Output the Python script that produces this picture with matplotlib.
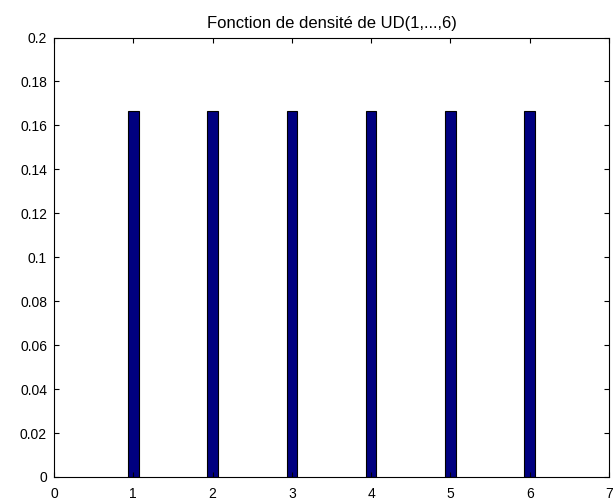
import matplotlib
matplotlib.use("Agg")
import matplotlib.pyplot as plt
from matplotlib.ticker import FixedLocator, FixedFormatter

faces = [1, 2, 3, 4, 5, 6]
density = [1 / 6] * 6
xticks = [0, 1, 2, 3, 4, 5, 6, 7]
yticks = [0, 0.02, 0.04, 0.06, 0.08, 0.1, 0.12, 0.14, 0.16, 0.18, 0.2]
ytick_labels = ["0", "0.02", "0.04", "0.06", "0.08", "0.1", "0.12", "0.14", "0.16", "0.18", "0.2"]
title = "Fonction de densité de UD(1,...,6)"

plt.rcParams["font.family"] = ["Liberation Sans", "DejaVu Sans"]

W, H = 615, 503
left, right, top, bottom = 54, 609, 37.5, 477
fig = plt.figure(figsize=(W / 100, H / 100), dpi=100)
ax = fig.add_axes([left / W, 1 - bottom / H, (right - left) / W, (bottom - top) / H])

ax.bar(faces, density, width=0.135, color="#000080", edgecolor="black", linewidth=0.8)

ax.set_xlim(0, 7)
ax.set_ylim(0, 0.2)
ax.xaxis.set_major_locator(FixedLocator(xticks))
ax.yaxis.set_major_locator(FixedLocator(yticks))
ax.yaxis.set_major_formatter(FixedFormatter(ytick_labels))
ax.tick_params(direction="in", top=True, right=True, length=3.6, width=0.8,
               labelsize=10)
ax.tick_params(axis="x", pad=7.5)
ax.tick_params(axis="y", pad=5)
for s in ax.spines.values():
    s.set_linewidth(0.8)
ax.set_title(title, fontsize=12, pad=7)

fig.savefig("out.png", dpi=100)
